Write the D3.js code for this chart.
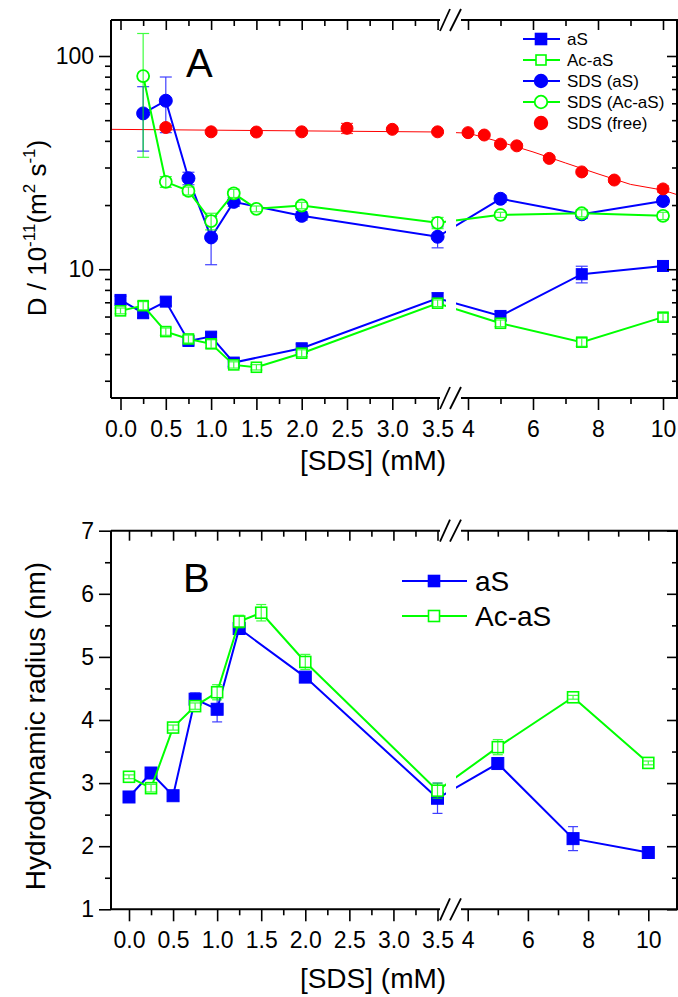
<!DOCTYPE html>
<html lang="en">
<head>
<meta charset="UTF-8">
<title>SDS diffusion and radius</title>
<style>
    body { margin: 0; padding: 0; background: #fff; }
    svg { display: block; font-family: Arial, "Liberation Sans", sans-serif; }
    .tick text { font-family: Arial, "Liberation Sans", sans-serif; }
</style>
<script src="https://cdn.jsdelivr.net/npm/d3@7/dist/d3.min.js"></script>
</head>
<body>
<svg id="chart" width="678" height="997"></svg>
<script>
// ---- panel A data: D / 10^-11 m^2 s^-1 ----
const xAS_A = [0, 0.25, 0.5, 0.75, 1.0, 1.25, 2.0, 3.5, 5, 7.5, 10];
const yAS_A = [7.18, 6.22, 7.05, 4.61, 4.83, 3.65, 4.26, 7.31, 6.04, 9.48, 10.36];
const eAS_A = [0.3, 0.3, 0.3, 0.2, 0.2, 0.15, 0.2, 0.45, 0.3, 0.85, 0.4];

const xAC_A = [0, 0.25, 0.5, 0.75, 1.0, 1.25, 1.5, 2.0, 3.5, 5, 7.5, 10];
const yAC_A = [6.38, 6.75, 5.10, 4.71, 4.47, 3.56, 3.47, 4.04, 6.93, 5.58, 4.55, 5.96];
const eAC_A = [0.2, 0.3, 0.2, 0.2, 0.2, 0.12, 0.1, 0.15, 0.25, 0.2, 0.2, 0.25];

const xSA_A = [0.25, 0.5, 0.75, 1.0, 1.25, 2.0, 3.5, 5, 7.5, 10];
const ySA_A = [53.8, 61.7, 26.7, 14.1, 20.7, 17.8, 14.2, 21.4, 18.1, 20.9];
const eSA_A = [18, 18, 1.8, 3.6, 1.0, 0.8, 1.6, 0.8, 0.8, 0.8];

const xSC_A = [0.25, 0.5, 0.75, 1.0, 1.25, 1.5, 2.0, 3.5, 5, 7.5, 10];
const ySC_A = [80.5, 25.7, 23.3, 16.8, 22.7, 19.2, 19.9, 16.5, 18.0, 18.3, 17.8];
const eSC_A = [47, 1.5, 1.0, 1.5, 1.0, 0.6, 0.7, 1.0, 0.5, 0.7, 0.7];

const xFree = [0.5, 1.0, 1.5, 2.0, 2.5, 3.0, 3.5, 4.0, 4.5, 5.0, 5.5, 6.5, 7.5, 8.5, 10];
const yFree = [46.2, 44.1, 44.0, 44.1, 45.8, 45.3, 44.1, 43.7, 42.6, 38.6, 37.9, 33.1, 28.6, 26.2, 23.8];
const eFree = [0.8, 0.6, 0.6, 0.6, 2.5, 0.6, 0.6, 0.6, 0.8, 0.8, 0.8, 0.6, 0.6, 0.6, 0.8];

// fitted line through free SDS
const fitLeftX = [-0.105, 3.55];
const fitLeftY = [45.3, 44.0];
const fitRightX = [3.63, 4.0, 5, 6, 7, 8, 9, 10, 10.46];
const fitRightY = [43.7, 43.5, 39.5, 35.5, 31.5, 28, 25, 23.5, 22.3];

// ---- panel B data: hydrodynamic radius (nm) ----
const xAS_B = [0, 0.25, 0.5, 0.75, 1.0, 1.25, 2.0, 3.5, 5, 7.5, 10];
const yAS_B = [2.78, 3.16, 2.80, 4.33, 4.17, 5.45, 4.68, 2.76, 3.31, 2.12, 1.90];
const eAS_B = [0.04, 0.05, 0.04, 0.1, 0.2, 0.07, 0.05, 0.24, 0.05, 0.19, 0.03];

const xAC_B = [0, 0.25, 0.5, 0.75, 1.0, 1.25, 1.5, 2.0, 3.5, 5, 7.5, 10];
const yAC_B = [3.10, 2.92, 3.88, 4.22, 4.44, 5.56, 5.70, 4.92, 2.88, 3.57, 4.36, 3.32];
const eAC_B = [0.03, 0.06, 0.04, 0.05, 0.12, 0.1, 0.13, 0.12, 0.12, 0.12, 0.03, 0.03];

// ticks
const majorLeft = [0, 0.5, 1.0, 1.5, 2.0, 2.5, 3.0, 3.5];
const minorLeft = [0.25, 0.75, 1.25, 1.75, 2.25, 2.75, 3.25];
const majorRight = [4, 6, 8, 10];
const minorRight = [5, 7, 9];
const logMajor = [10, 100];
const logMinor = [3, 4, 5, 6, 7, 8, 9, 20, 30, 40, 50, 60, 70, 80, 90];
const radMajor = [1, 2, 3, 4, 5, 6, 7];
const radMinor = [1.5, 2.5, 3.5, 4.5, 5.5, 6.5];

const BLUE = '#0000ff', GREEN = '#00ff00', RED = '#ff0000';
const FONT = 'Arial, "Liberation Sans", sans-serif';

const svg = d3.select('#chart');

function zip(xs, ys, es) {
    return xs.map((x, i) => ({ x: x, y: ys[i], e: es ? es[i] : 0 }));
}

function makePanel(cfg) {
    const g = svg.append('g');
    const xL = d3.scaleLinear().domain([0, 3.5]).range(cfg.xLRange);
    const xR = d3.scaleLinear().domain([4, 10]).range(cfg.xRRange);
    const x = v => v < 3.6 ? xL(v) : xR(v);
    const y = cfg.y;

    const dataLayer = g.append('g');
    const clipId = 'clip' + cfg.id;
    g.append('clipPath').attr('id', clipId)
        .append('rect').attr('x', cfg.left).attr('y', cfg.top)
        .attr('width', cfg.right - cfg.left).attr('height', cfg.bottom - cfg.top);
    dataLayer.attr('clip-path', `url(#${clipId})`);

    function ticksAt(axisFn, scale, vals, size, withLabels, transform) {
        const ax = axisFn(scale).tickValues(vals).tickSize(size).tickPadding(5);
        if (!withLabels) ax.tickFormat('');
        else ax.tickFormat(d3.format('.1f'));
        const a = g.append('g').attr('transform', transform).call(ax);
        a.select('.domain').remove();
        a.selectAll('line').attr('stroke', '#000').attr('stroke-width', 1.6);
        a.selectAll('text').attr('font-size', 23).attr('font-family', FONT).attr('fill', '#000');
        return a;
    }

    return Object.assign({ g, dataLayer, x, xL, xR, y, ticksAt }, cfg);
}

function drawSeries(p, data, color, marker, size, cap, withLine) {
    const L = p.dataLayer;
    if (withLine) {
        L.append('path')
            .datum(data)
            .attr('fill', 'none')
            .attr('stroke', color)
            .attr('stroke-width', 2)
            .attr('d', d3.line().x(d => p.x(d.x)).y(d => p.y(d.y)));
    }
    const m = L.append('g');
    data.forEach(d => {
        const cx = p.x(d.x), cy = p.y(d.y);
        if (marker === 'sq' || marker === 'osq') {
            m.append('rect')
                .attr('x', cx - size / 2).attr('y', cy - size / 2)
                .attr('width', size).attr('height', size)
                .attr('fill', marker === 'sq' ? color : '#fff')
                .attr('stroke', color).attr('stroke-width', marker === 'sq' ? 1 : 1.6);
        } else {
            m.append('circle')
                .attr('cx', cx).attr('cy', cy).attr('r', size / 2)
                .attr('fill', marker === 'ci' ? color : '#fff')
                .attr('stroke', color).attr('stroke-width', marker === 'ci' ? 1 : 1.8);
        }
    });
    const eb = L.append('g').attr('stroke', color).attr('stroke-width', 1.2).attr('opacity', 0.75);
    data.forEach(d => {
        if (!d.e) return;
        const cx = p.x(d.x);
        const y1 = p.y(d.y + d.e), y0 = p.y(d.y - d.e);
        eb.append('line').attr('x1', cx).attr('x2', cx).attr('y1', y1).attr('y2', y0);
        eb.append('line').attr('x1', cx - cap).attr('x2', cx + cap).attr('y1', y1).attr('y2', y1);
        eb.append('line').attr('x1', cx - cap).attr('x2', cx + cap).attr('y1', y0).attr('y2', y0);
    });
}

function drawFrame(p) {
    const g = p.g;
    // gap in the data across the axis break
    g.append('rect').attr('x', 446).attr('y', p.top + 1)
        .attr('width', 10).attr('height', p.bottom - p.top - 2).attr('fill', '#fff');

    const fr = g.append('g').attr('stroke', '#000').attr('stroke-width', 2).attr('fill', 'none');
    [p.top, p.bottom].forEach(yy => {
        fr.append('line').attr('x1', p.left).attr('x2', p.axisL).attr('y1', yy).attr('y2', yy);
        fr.append('line').attr('x1', p.axisR).attr('x2', p.right).attr('y1', yy).attr('y2', yy);
        fr.append('line').attr('x1', p.axisL).attr('x2', p.axisL + 10).attr('y1', yy + 11).attr('y2', yy - 11)
            .attr('stroke-width', 1.8);
        fr.append('line').attr('x1', p.axisL + 10).attr('x2', p.axisL + 21).attr('y1', yy + 11).attr('y2', yy - 11)
            .attr('stroke-width', 1.8);
    });
    fr.append('line').attr('x1', p.left).attr('x2', p.left).attr('y1', p.top).attr('y2', p.bottom);
    fr.append('line').attr('x1', p.right - 1).attr('x2', p.right - 1).attr('y1', p.top).attr('y2', p.bottom);

    // x ticks: outward with labels at the bottom, inward at the top
    const b = `translate(0,${p.bottom})`, t = `translate(0,${p.top})`;
    p.ticksAt(d3.axisBottom, p.xL, majorLeft, 12, true, b);
    p.ticksAt(d3.axisBottom, p.xL, minorLeft, 6, false, b);
    p.ticksAt(d3.axisBottom, p.xR, majorRight, 12, true, b)
        .selectAll('text').text(d => d3.format('d')(d));
    p.ticksAt(d3.axisBottom, p.xR, minorRight, 6, false, b);
    p.ticksAt(d3.axisTop, p.xL, majorLeft, -10, false, t);
    p.ticksAt(d3.axisTop, p.xL, minorLeft, -6, false, t);
    p.ticksAt(d3.axisTop, p.xR, majorRight, -10, false, t);
    p.ticksAt(d3.axisTop, p.xR, minorRight, -6, false, t);
    g.selectAll('.tick text').filter(function () { return this.textContent !== ''; })
        .attr('dy', '0.95em');
}

// ================= Panel A =================
const yA = d3.scaleLog().domain([2.49, 147.5]).range([398, 20]);
const pA = makePanel({
    id: 'A', xLRange: [120.5, 437.6], xRRange: [468, 663], y: yA,
    left: 111, right: 678, top: 20, bottom: 398, axisL: 440, axisR: 461
});

// free SDS fit
pA.dataLayer.append('path').datum(zip(fitLeftX, fitLeftY))
    .attr('fill', 'none').attr('stroke', RED).attr('stroke-width', 1)
    .attr('d', d3.line().x(d => pA.x(d.x)).y(d => yA(d.y)));
pA.dataLayer.append('path').datum(zip(fitRightX, fitRightY))
    .attr('fill', 'none').attr('stroke', RED).attr('stroke-width', 1)
    .attr('d', d3.line().x(d => pA.x(d.x)).y(d => yA(d.y)));

drawSeries(pA, zip(xAS_A, yAS_A, eAS_A), BLUE, 'sq', 11, 6, true);
drawSeries(pA, zip(xAC_A, yAC_A, eAC_A), GREEN, 'osq', 10, 6, true);
drawSeries(pA, zip(xSA_A, ySA_A, eSA_A), BLUE, 'ci', 13, 6, true);
drawSeries(pA, zip(xSC_A, ySC_A, eSC_A), GREEN, 'oci', 12, 6, true);
drawSeries(pA, zip(xFree, yFree, eFree), RED, 'ci', 12, 6, false);

drawFrame(pA);

// log y ticks
pA.ticksAt(d3.axisLeft, yA, logMajor, 12, true, `translate(${pA.left},0)`)
    .selectAll('text').text(d => d3.format('d')(d));
pA.ticksAt(d3.axisLeft, yA, logMinor, 6, false, `translate(${pA.left},0)`);
pA.ticksAt(d3.axisRight, yA, logMajor, -10, false, `translate(${pA.right - 1},0)`);
pA.ticksAt(d3.axisRight, yA, logMinor, -5, false, `translate(${pA.right - 1},0)`);

pA.g.append('text').attr('x', 186).attr('y', 77).attr('font-size', 40).attr('font-family', FONT).text('A');

const ylA = pA.g.append('text')
    .attr('transform', 'translate(46,228) rotate(-90)')
    .attr('text-anchor', 'middle').attr('font-size', 26).attr('font-family', FONT);
ylA.append('tspan').text('D / 10');
ylA.append('tspan').attr('font-size', 17).attr('dy', -11).text('-11');
ylA.append('tspan').attr('dy', 11).text('(m');
ylA.append('tspan').attr('font-size', 17).attr('dy', -11).text('2');
ylA.append('tspan').attr('dy', 11).text(' s');
ylA.append('tspan').attr('font-size', 17).attr('dy', -11).text('-1');
ylA.append('tspan').attr('dy', 11).text(')');

pA.g.append('text').attr('x', 373).attr('y', 470).attr('text-anchor', 'middle')
    .attr('font-size', 28).attr('font-family', FONT).text('[SDS] (mM)');

// legend A
const legA = [
    { name: 'aS', color: BLUE, marker: 'sq', line: true },
    { name: 'Ac-aS', color: GREEN, marker: 'osq', line: true },
    { name: 'SDS (aS)', color: BLUE, marker: 'ci', line: true },
    { name: 'SDS (Ac-aS)', color: GREEN, marker: 'oci', line: true },
    { name: 'SDS (free)', color: RED, marker: 'ci', line: false }
];
legA.forEach((d, i) => {
    const yy = 39 + i * 21;
    const lg = pA.g.append('g');
    if (d.line) {
        lg.append('line').attr('x1', 523).attr('x2', 560).attr('y1', yy).attr('y2', yy)
            .attr('stroke', d.color).attr('stroke-width', 2);
    }
    if (d.marker === 'sq' || d.marker === 'osq') {
        const s = d.marker === 'sq' ? 11 : 10;
        lg.append('rect').attr('x', 541 - s / 2).attr('y', yy - s / 2).attr('width', s).attr('height', s)
            .attr('fill', d.marker === 'sq' ? d.color : '#fff').attr('stroke', d.color).attr('stroke-width', 1.6);
    } else {
        lg.append('circle').attr('cx', 541).attr('cy', yy).attr('r', 6.3)
            .attr('fill', d.marker === 'ci' ? d.color : '#fff').attr('stroke', d.color).attr('stroke-width', 1.8);
    }
    lg.append('text').attr('x', 567).attr('y', yy + 6).attr('font-size', 17).attr('font-family', FONT).text(d.name);
});

// ================= Panel B =================
const yB = d3.scaleLinear().domain([1, 7]).range([909.3, 530.7]);
const pB = makePanel({
    id: 'B', xLRange: [129, 437.5], xRRange: [467.7, 648.3], y: yB,
    left: 111, right: 678, top: 530.7, bottom: 909.3, axisL: 440, axisR: 461
});

drawSeries(pB, zip(xAS_B, yAS_B, eAS_B), BLUE, 'sq', 12, 5, true);
drawSeries(pB, zip(xAC_B, yAC_B, eAC_B), GREEN, 'osq', 11, 5, true);

drawFrame(pB);

pB.ticksAt(d3.axisLeft, yB, radMajor, 12, true, `translate(${pB.left},0)`)
    .selectAll('text').text(d => d3.format('d')(d));
pB.ticksAt(d3.axisLeft, yB, radMinor, 6, false, `translate(${pB.left},0)`);
pB.ticksAt(d3.axisRight, yB, radMajor, -10, false, `translate(${pB.right - 1},0)`);
pB.ticksAt(d3.axisRight, yB, radMinor, -5, false, `translate(${pB.right - 1},0)`);

pB.g.append('text').attr('x', 183).attr('y', 592).attr('font-size', 40).attr('font-family', FONT).text('B');

pB.g.append('text').attr('transform', 'translate(45,726) rotate(-90)')
    .attr('text-anchor', 'middle').attr('font-size', 28).attr('font-family', FONT)
    .text('Hydrodynamic radius (nm)');

pB.g.append('text').attr('x', 373).attr('y', 988).attr('text-anchor', 'middle')
    .attr('font-size', 28).attr('font-family', FONT).text('[SDS] (mM)');

// legend B
const legB = [
    { name: 'aS', color: BLUE, marker: 'sq' },
    { name: 'Ac-aS', color: GREEN, marker: 'osq' }
];
legB.forEach((d, i) => {
    const yy = 581 + i * 35;
    const lg = pB.g.append('g');
    lg.append('line').attr('x1', 402).attr('x2', 467).attr('y1', yy).attr('y2', yy)
        .attr('stroke', d.color).attr('stroke-width', 2);
    lg.append('rect').attr('x', 434 - 5.5).attr('y', yy - 5.5).attr('width', 11).attr('height', 11)
        .attr('fill', d.marker === 'sq' ? d.color : '#fff').attr('stroke', d.color).attr('stroke-width', 1.6);
    lg.append('text').attr('x', 475).attr('y', yy + 10).attr('font-size', 28).attr('font-family', FONT).text(d.name);
});
</script>
</body>
</html>
